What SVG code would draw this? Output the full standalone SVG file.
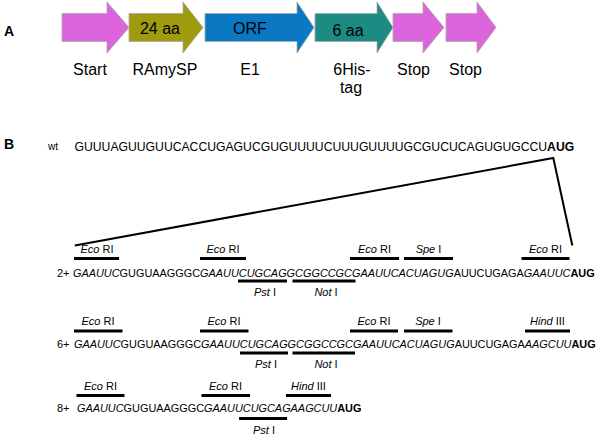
<svg xmlns="http://www.w3.org/2000/svg" width="600" height="440" viewBox="0 0 600 440">
<style>
text{font-family:"Liberation Sans",Arial,sans-serif;fill:#000}
.pl{font-size:14px;font-weight:bold}
.al{font-size:16px;text-anchor:middle}
.arr{stroke:#a8a8a8;stroke-width:0.8}
.seq{font-size:10.9px}
.lab{font-size:11px;text-anchor:middle}
.row{font-size:11px}
.bar{stroke:#000;stroke-width:2.8}
.wedge{fill:none;stroke:#000;stroke-width:2}
.i{font-style:italic}
.b{font-weight:bold}
</style>
<rect width="600" height="440" fill="#fff"/>
<text class="pl" x="4" y="36">A</text>
<g id="start">
<path class="arr" fill="#dc64dc" d="M62,13.5 H107 V2 L129,27.5 L107,53 V41.5 H62 Z"/>
<text class="al" x="90" y="74.5">Start</text>
</g>
<g id="ramysp">
<path class="arr" fill="#9f9b0f" d="M129,13.5 H183 V2 L203,27.5 L183,53 V41.5 H129 Z"/>
<text class="al" x="160" y="34">24 aa</text>
<text class="al" x="165" y="74.5">RAmySP</text>
</g>
<g id="orf">
<path class="arr" fill="#0a78c2" d="M205,13.5 H297 V2 L314,27.5 L297,53 V41.5 H205 Z"/>
<text class="al" x="250" y="33.5">ORF</text>
<text class="al" x="250" y="74.5">E1</text>
</g>
<g id="his">
<path class="arr" fill="#1e8b82" d="M315,13.5 H377 V2 L393,27.5 L377,53 V41.5 H315 Z"/>
<text class="al" x="348" y="36">6 aa</text>
<text class="al" x="352" y="74.5">6His-</text>
<text class="al" x="351" y="93">tag</text>
</g>
<g id="stop1">
<path class="arr" fill="#dc64dc" d="M393,13.5 H423 V2 L444,27.5 L423,53 V41.5 H393 Z"/>
<text class="al" x="413.5" y="74.5">Stop</text>
</g>
<g id="stop2">
<path class="arr" fill="#dc64dc" d="M446,13.5 H477 V2 L496,27.5 L477,53 V41.5 H446 Z"/>
<text class="al" x="465.5" y="74.5">Stop</text>
</g>

<text class="pl" x="4" y="149">B</text>
<g id="wt">
<text x="48" y="149.5" style="font-size:10px">wt</text>
<text x="74.5" y="151" style="font-size:12.2px">GUUUAGUUGUUCACCUGAGUCGUGUUUUCUUUGUUUUGCGUCUCAGUGUGCCU<tspan class="b">AUG</tspan></text>
</g>
<g id="connectors">
<polyline class="wedge" points="74.8,245.5 553.3,158 572.3,245.5"/>
</g>

<g id="row2">
<text class="row" x="57" y="276.5">2+</text>
<text class="seq" x="73" y="276.5"><tspan class="i">GAAUUC</tspan>GUGUAAGGGC<tspan class="i">GAAUUCUGCAGGCGGCCGCGAAUUCACUAGUG</tspan>AUUCUGAGA<tspan class="i">GAAUUC</tspan><tspan class="b">AUG</tspan></text>
<g id="r2-sites">
<line class="bar" x1="74" y1="258.5" x2="119" y2="258.5"/><text class="lab" x="97" y="252.5"><tspan class="i">Eco</tspan> RI</text>
<line class="bar" x1="200" y1="258.5" x2="246" y2="258.5"/><text class="lab" x="223" y="252.5"><tspan class="i">Eco</tspan> RI</text>
<line class="bar" x1="350" y1="258.5" x2="399" y2="258.5"/><text class="lab" x="374.5" y="252.5"><tspan class="i">Eco</tspan> RI</text>
<line class="bar" x1="404" y1="258.5" x2="453" y2="258.5"/><text class="lab" x="428.5" y="252.5"><tspan class="i">Spe</tspan> I</text>
<line class="bar" x1="521.5" y1="258.5" x2="569.5" y2="258.5"/><text class="lab" x="545.5" y="252.5"><tspan class="i">Eco</tspan> RI</text>
<line class="bar" x1="238" y1="281" x2="287" y2="281"/><text class="lab" x="265" y="296"><tspan class="i">Pst</tspan> I</text>
<line class="bar" x1="292.5" y1="281" x2="355.5" y2="281"/><text class="lab" x="326" y="296"><tspan class="i">Not</tspan> I</text>
</g>
</g>

<g id="row6">
<text class="row" x="57" y="348">6+</text>
<text class="seq" x="74" y="348"><tspan class="i">GAAUUC</tspan>GUGUAAGGGC<tspan class="i">GAAUUCUGCAGGCGGCCGCGAAUUCACUAGUG</tspan>AUUCUGAGA<tspan class="i">AAGCUU</tspan><tspan class="b">AUG</tspan></text>
<g id="r6-sites">
<line class="bar" x1="74" y1="331" x2="122.5" y2="331"/><text class="lab" x="98" y="325"><tspan class="i">Eco</tspan> RI</text>
<line class="bar" x1="200" y1="331" x2="248.5" y2="331"/><text class="lab" x="224" y="325"><tspan class="i">Eco</tspan> RI</text>
<line class="bar" x1="350" y1="331" x2="398" y2="331"/><text class="lab" x="374" y="325"><tspan class="i">Eco</tspan> RI</text>
<line class="bar" x1="404" y1="331" x2="452.5" y2="331"/><text class="lab" x="428" y="325"><tspan class="i">Spe</tspan> I</text>
<line class="bar" x1="525" y1="331" x2="570" y2="331"/><text class="lab" x="547.5" y="325"><tspan class="i">Hind</tspan> III</text>
<line class="bar" x1="240" y1="353" x2="288" y2="353"/><text class="lab" x="266" y="368"><tspan class="i">Pst</tspan> I</text>
<line class="bar" x1="292.5" y1="353" x2="355" y2="353"/><text class="lab" x="326" y="368"><tspan class="i">Not</tspan> I</text>
</g>
</g>

<g id="row8">
<text class="row" x="57" y="411.5">8+</text>
<text class="seq" x="77" y="411.5"><tspan class="i">GAAUUC</tspan>GUGUAAGGGC<tspan class="i">GAAUUCUGCAGAAGCUU</tspan><tspan class="b">AUG</tspan></text>
<g id="r8-sites">
<line class="bar" x1="76.5" y1="395.5" x2="124.5" y2="395.5"/><text class="lab" x="100.5" y="389.5"><tspan class="i">Eco</tspan> RI</text>
<line class="bar" x1="201.5" y1="395.5" x2="250" y2="395.5"/><text class="lab" x="225.5" y="389.5"><tspan class="i">Eco</tspan> RI</text>
<line class="bar" x1="286" y1="395.5" x2="331" y2="395.5"/><text class="lab" x="308.5" y="389.5"><tspan class="i">Hind</tspan> III</text>
<line class="bar" x1="239" y1="418.5" x2="287" y2="418.5"/><text class="lab" x="264" y="434"><tspan class="i">Pst</tspan> I</text>
</g>
</g>
</svg>
